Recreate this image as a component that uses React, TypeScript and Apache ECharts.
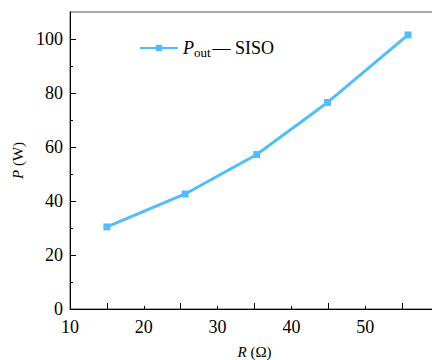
import React, { useEffect, useRef } from "react";
import * as echarts from "echarts";

const resistance = [15, 25.6, 35.3, 44.9, 55.8];
const power = [30.4, 42.6, 57.2, 76.5, 101.5];
const xLabelValues = [10, 20, 30, 40, 50];
const xMajorTicks = [15, 25, 35, 45, 55];
const xMinorTicks = [10, 20, 30, 40, 50, 60];
const yLabelValues = [0, 20, 40, 60, 80, 100];
const yMinorTicks = [10, 30, 50, 70, 90];
const seriesName = "Pout — SISO";

const FONT = "'Liberation Serif', 'Times New Roman', serif";
const BLUE = "#51BDFD";

export default function App() {
  const ref = useRef<HTMLDivElement>(null);
  useEffect(() => {
    if (!ref.current) return;
    const chart = echarts.init(ref.current, null, { renderer: "svg" });
    const axisText = { color: "#000", fontFamily: FONT, fontSize: 18 };
    const nameStyle = {
      fontFamily: FONT,
      fontSize: 15,
      color: "#000",
      rich: {
        i: { fontFamily: FONT, fontSize: 15, fontStyle: "italic", color: "#000" },
      },
    };
    chart.setOption({
      animation: false,
      grid: {
        left: 70,
        top: 12,
        bottom: 51,
        width: 369,
        show: true,
        borderColor: "#555",
        borderWidth: 1,
        outerBoundsMode: "none",
        containLabel: false,
      },
      legend: {
        left: 134,
        top: 34,
        itemWidth: 38,
        itemHeight: 8,
        data: [seriesName],
        formatter: () => "{i|P}{s|out}{n|— SISO}",
        textStyle: {
          fontFamily: FONT,
          color: "#000",
          rich: {
            i: { fontFamily: FONT, fontSize: 18, fontStyle: "italic", color: "#000" },
            s: { fontFamily: FONT, fontSize: 13, color: "#000", padding: [9, 2, 0, 0] },
            n: { fontFamily: FONT, fontSize: 18, color: "#000" },
          },
        },
      },
      xAxis: [
        {
          type: "value",
          min: 10,
          max: 60,
          position: "bottom",
          name: "{i|R} (Ω)",
          nameLocation: "middle",
          nameGap: 35,
          nameTextStyle: nameStyle,
          axisLine: { show: true, lineStyle: { color: "#000", width: 1 } },
          axisTick: {
            show: true,
            inside: true,
            length: 6,
            customValues: xMajorTicks,
            lineStyle: { color: "#000" },
          },
          axisLabel: { ...axisText, margin: 9, customValues: xLabelValues },
          splitLine: { show: false },
        },
        {
          type: "value",
          min: 10,
          max: 60,
          position: "bottom",
          axisLine: { show: false },
          axisTick: {
            show: true,
            inside: true,
            length: 3,
            customValues: xMinorTicks,
            lineStyle: { color: "#000" },
          },
          axisLabel: { show: false },
          splitLine: { show: false },
        },
      ],
      yAxis: [
        {
          type: "value",
          min: 0,
          max: 110,
          position: "left",
          name: "{i|P} (W)",
          nameLocation: "middle",
          nameGap: 38,
          nameTextStyle: nameStyle,
          axisLine: { show: true, lineStyle: { color: "#000", width: 1 } },
          axisTick: {
            show: true,
            inside: true,
            length: 6,
            customValues: yLabelValues,
            lineStyle: { color: "#000" },
          },
          axisLabel: { ...axisText, margin: 7, customValues: yLabelValues },
          splitLine: { show: false },
        },
        {
          type: "value",
          min: 0,
          max: 110,
          position: "left",
          axisLine: { show: false },
          axisTick: {
            show: true,
            inside: true,
            length: 3,
            customValues: yMinorTicks,
            lineStyle: { color: "#000" },
          },
          axisLabel: { show: false },
          splitLine: { show: false },
        },
      ],
      series: [
        {
          name: seriesName,
          type: "line",
          xAxisIndex: 0,
          yAxisIndex: 0,
          data: resistance.map((r, i) => [r, power[i]]),
          symbol: "rect",
          symbolSize: 7,
          itemStyle: { color: BLUE },
          lineStyle: { color: BLUE, width: 3 },
        },
      ],
    });
    return () => chart.dispose();
  }, []);
  return <div ref={ref} style={{ width: 432, height: 360, position: "absolute", left: 0, top: 0 }} />;
}
